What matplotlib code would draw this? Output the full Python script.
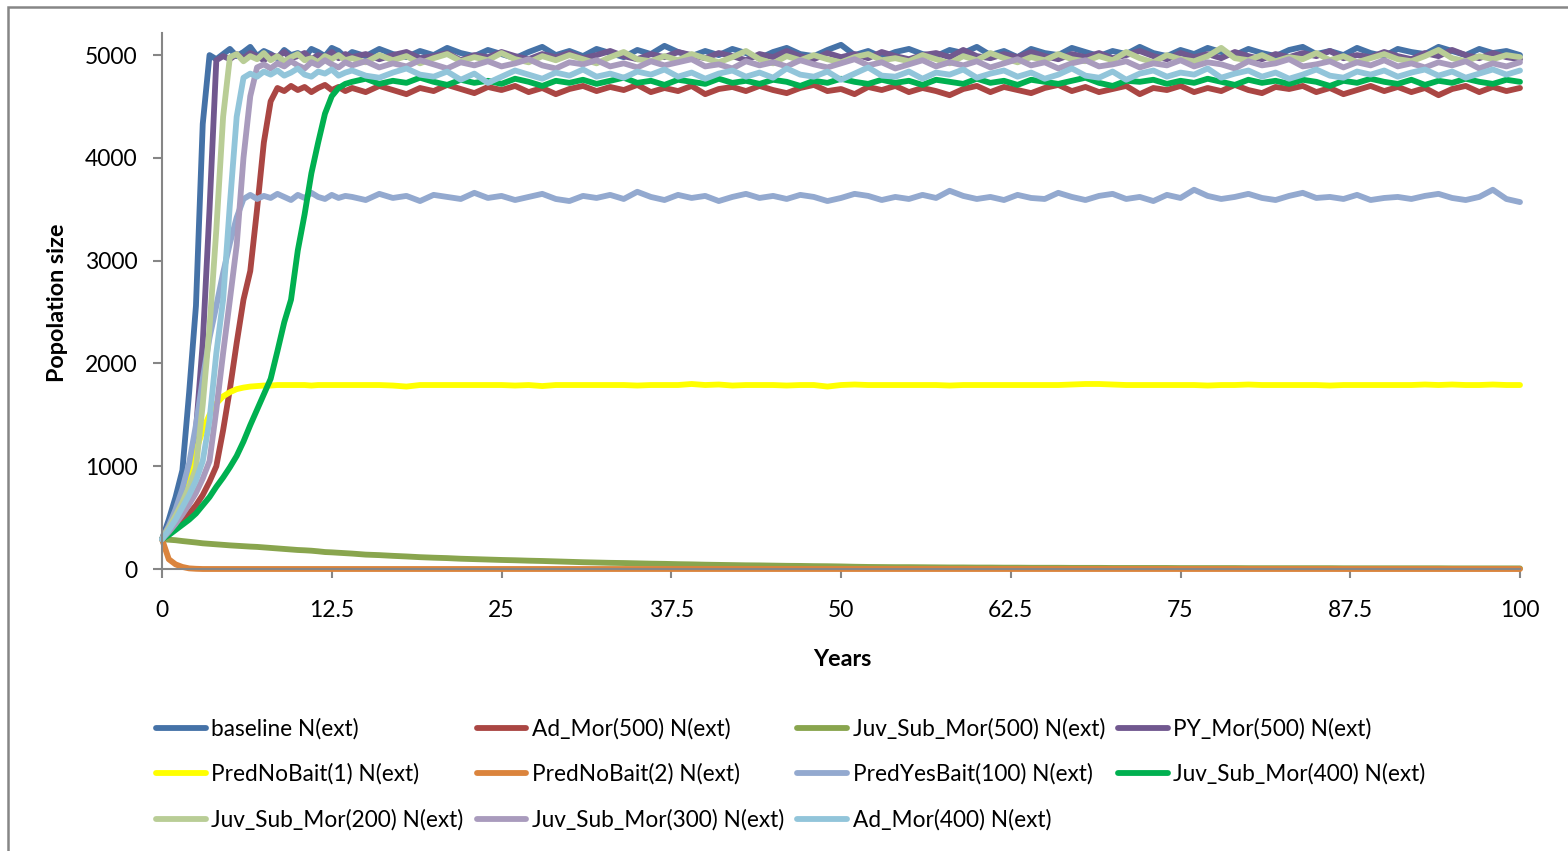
import numpy as np
import matplotlib
matplotlib.use("Agg")
from matplotlib import pyplot as plt
from matplotlib.patches import Rectangle

plt.rcParams['font.family'] = ['Lato', 'DejaVu Sans']

# time axis: half-year steps up to 13.5, then yearly
years = np.r_[np.arange(0, 14, 0.5), np.arange(14, 101)]

baseline = [
    290, 480, 700, 960, 1720, 2560, 4330, 5000, 4960, 5010, 5060, 4990, 5030, 5080,
    4990, 5040, 5010, 4970, 5050, 5000, 5020, 4980, 5060, 5030, 4990, 5070, 5040, 4980,
    5030, 4990, 5060, 5010, 4980, 5040, 5000, 5070, 5020, 4990,
    5050, 5010, 4970, 5030, 5080, 5000, 5040, 4990, 5060, 5020,
    4980, 5050, 5010, 5090, 5030, 4990, 5040, 5000, 5060, 5020,
    4970, 5030, 5070, 5010, 4990, 5050, 5100, 5000, 5040, 4980,
    5030, 5060, 5010, 4990, 5050, 5020, 5080, 5000, 5040, 4980,
    5060, 5020, 5000, 5070, 5030, 4990, 5040, 5010, 5080, 5020,
    4990, 5050, 5010, 5070, 5030, 5000, 5060, 5020, 4990, 5050,
    5080, 5010, 5040, 5000, 5070, 5020, 4990, 5060, 5030, 5010,
    5080, 5040, 5000, 5060, 5020, 5040, 5000,
]
ad_mor_500 = [
    290, 340, 400, 470, 540, 620, 720, 850, 1000, 1350, 1750, 2200, 2620, 2900,
    3500, 4150, 4550, 4680, 4650, 4700, 4660, 4690, 4640, 4680, 4710, 4660, 4690, 4650,
    4680, 4640, 4700, 4660, 4620, 4680, 4650, 4710, 4670, 4630,
    4690, 4660, 4700, 4640, 4680, 4620, 4670, 4700, 4650, 4690,
    4660, 4710, 4640, 4680, 4650, 4700, 4620, 4670, 4690, 4650,
    4700, 4660, 4630, 4680, 4710, 4650, 4670, 4620, 4690, 4660,
    4700, 4640, 4680, 4650, 4610, 4670, 4700, 4640, 4690, 4660,
    4630, 4680, 4710, 4650, 4690, 4640, 4670, 4700, 4620, 4680,
    4660, 4700, 4640, 4680, 4650, 4710, 4660, 4630, 4690, 4670,
    4700, 4640, 4680, 4620, 4660, 4700, 4650, 4690, 4640, 4680,
    4610, 4670, 4700, 4640, 4690, 4650, 4680,
]
juv_sub_mor_500 = [
    290, 285, 280, 272, 265, 258, 250, 245, 240, 235, 230, 226, 222, 218,
    215, 210, 205, 200, 195, 190, 185, 182, 178, 172, 165, 162, 158, 154,
    150, 140, 135, 128, 122, 115, 110, 106, 100, 96,
    92, 88, 85, 81, 78, 74, 70, 66, 63, 60,
    58, 55, 52, 50, 47, 45, 42, 40, 38, 36,
    35, 33, 31, 30, 28, 27, 25, 22, 20, 19,
    18, 18, 17, 16, 15, 15, 14, 14, 13, 13,
    12, 12, 12, 11, 11, 11, 10, 10, 10, 10,
    10, 9, 9, 9, 9, 9, 8, 8, 8, 8,
    8, 8, 8, 7, 7, 7, 7, 7, 7, 7,
    7, 6, 6, 6, 6, 6, 6,
]
py_mor_500 = [
    290, 420, 560, 720, 900, 1350, 2200, 3500, 4950, 4990, 4960, 5010, 4970, 5020,
    4990, 4950, 5000, 4980, 5030, 4970, 4990, 5020, 4960, 5000, 4980, 5030, 4970, 5010,
    4980, 5010, 4960, 5000, 5030, 4970, 4990, 5020, 4950, 5000,
    4980, 5030, 4990, 4960, 5010, 4980, 5020, 4970, 5000, 5040,
    4990, 4960, 5010, 4980, 5030, 5000, 4970, 5020, 4990, 4950,
    5010, 4980, 5040, 4990, 4960, 5020, 4980, 5010, 4970, 5030,
    4990, 4960, 5000, 5020, 4980, 5050, 4990, 4970, 5010, 4980,
    5030, 4990, 4960, 5010, 4980, 5020, 4970, 5000, 5040, 4990,
    4960, 5020, 4980, 5010, 4970, 5030, 4990, 4960, 5010, 4980,
    5020, 4990, 5040, 4970, 5000, 4980, 5030, 4990, 4960, 5020,
    4990, 5050, 5000, 4970, 5020, 4980, 4960,
]
pred_no_bait_1 = [
    290, 400, 530, 700, 900, 1150, 1350, 1500, 1610, 1680, 1720, 1750, 1765, 1775,
    1780, 1785, 1785, 1790, 1790, 1790, 1790, 1790, 1785, 1790, 1790, 1790, 1790, 1790,
    1790, 1790, 1790, 1785, 1775, 1790, 1790, 1790, 1790, 1790,
    1790, 1790, 1785, 1790, 1780, 1790, 1790, 1790, 1790, 1790,
    1790, 1785, 1790, 1790, 1790, 1800, 1790, 1795, 1785, 1790,
    1790, 1790, 1785, 1790, 1790, 1775, 1790, 1795, 1790, 1790,
    1790, 1790, 1790, 1790, 1785, 1790, 1790, 1790, 1790, 1790,
    1790, 1790, 1790, 1795, 1800, 1800, 1795, 1790, 1790, 1790,
    1790, 1790, 1790, 1785, 1790, 1790, 1795, 1790, 1790, 1790,
    1790, 1790, 1785, 1790, 1790, 1790, 1790, 1790, 1790, 1795,
    1790, 1795, 1790, 1790, 1795, 1790, 1790,
]
pred_no_bait_2 = [
    290, 95, 45, 20, 6, 2, 0, 0, 0, 0, 0, 0, 0, 0,
    0, 0, 0, 0, 0, 0, 0, 0, 0, 0, 0, 0, 0, 0,
    0, 0, 0, 0, 0, 0, 0, 0, 0, 0,
    0, 0, 0, 0, 0, 0, 0, 0, 0, 0,
    0, 0, 0, 0, 0, 0, 0, 0, 0, 0,
    0, 0, 0, 0, 0, 0, 0, 0, 0, 0,
    0, 0, 0, 0, 0, 0, 0, 0, 0, 0,
    0, 0, 0, 0, 0, 0, 0, 0, 0, 0,
    0, 0, 0, 0, 0, 0, 0, 0, 0, 0,
    0, 0, 0, 0, 0, 0, 0, 0, 0, 0,
    0, 0, 0, 0, 0, 0, 0,
]
pred_yes_bait_100 = [
    290, 420, 580, 780, 1030, 1400, 1850, 2250, 2560, 2880, 3170, 3420, 3600, 3640,
    3600, 3630, 3610, 3650, 3620, 3590, 3640, 3610, 3660, 3620, 3600, 3640, 3610, 3630,
    3620, 3590, 3650, 3610, 3630, 3580, 3640, 3620, 3600, 3660,
    3610, 3630, 3590, 3620, 3650, 3600, 3580, 3630, 3610, 3640,
    3600, 3670, 3620, 3590, 3640, 3610, 3630, 3580, 3620, 3650,
    3610, 3630, 3600, 3640, 3620, 3580, 3610, 3650, 3630, 3590,
    3620, 3600, 3640, 3610, 3680, 3630, 3600, 3620, 3590, 3640,
    3610, 3600, 3660, 3620, 3590, 3630, 3650, 3600, 3620, 3580,
    3640, 3610, 3690, 3630, 3600, 3620, 3650, 3610, 3590, 3630,
    3660, 3610, 3620, 3600, 3640, 3590, 3610, 3620, 3600, 3630,
    3650, 3610, 3590, 3620, 3690, 3600, 3570,
]
juv_sub_mor_400 = [
    290, 330, 380, 430, 480, 540, 620, 700, 800, 890, 990, 1100, 1240, 1400,
    1550, 1700, 1850, 2120, 2400, 2620, 3100, 3450, 3850, 4150, 4430, 4600, 4680, 4720,
    4740, 4770, 4720, 4750, 4730, 4780, 4740, 4710, 4760, 4730,
    4750, 4720, 4770, 4740, 4700, 4750, 4730, 4760, 4720, 4750,
    4780, 4730, 4750, 4710, 4760, 4740, 4720, 4770, 4730, 4750,
    4720, 4760, 4740, 4700, 4750, 4730, 4770, 4740, 4720, 4760,
    4730, 4750, 4710, 4760, 4740, 4720, 4770, 4730, 4750, 4710,
    4760, 4740, 4720, 4750, 4780, 4730, 4700, 4750, 4740, 4760,
    4720, 4750, 4730, 4770, 4740, 4710, 4760, 4730, 4750, 4720,
    4760, 4740, 4700, 4750, 4730, 4770, 4740, 4720, 4760, 4710,
    4750, 4730, 4770, 4740, 4720, 4760, 4740,
]
juv_sub_mor_200 = [
    290, 400, 520, 650, 800, 980, 1600, 2350, 3300, 4400, 4980, 5010, 4940, 4990,
    4960, 5020, 4950, 4990, 4940, 4980, 5010, 4950, 4970, 4930, 4990, 4960, 5000, 4950,
    4970, 4930, 5000, 4950, 4990, 4920, 4970, 5010, 4940, 4980,
    4950, 5020, 4960, 4930, 4990, 4950, 5000, 4960, 4920, 4980,
    5030, 4960, 4940, 4990, 4950, 5010, 4970, 4930, 4980, 5040,
    4960, 4920, 4990, 4950, 5000, 4960, 4930, 4980, 5010, 4950,
    4970, 4940, 5000, 4960, 4920, 4990, 4950, 5020, 4970, 4930,
    4980, 4950, 5010, 4960, 4940, 4990, 4950, 5030, 4970, 4930,
    5000, 4960, 4940, 4990, 5070, 4970, 4950, 5000, 4940, 4980,
    4960, 5020, 4950, 4990, 4930, 4970, 5010, 4960, 4940, 4990,
    5050, 4970, 4940, 4990, 4960, 5000, 4980,
]
juv_sub_mor_300 = [
    290, 360, 440, 530, 630, 740, 880, 1050, 1550, 2100, 2620, 3150, 4000, 4600,
    4880, 4910, 4870, 4920, 4890, 4940, 4900, 4870, 4930, 4900, 4950, 4910, 4880, 4930,
    4900, 4940, 4880, 4920, 4890, 4950, 4910, 4870, 4930, 4900,
    4940, 4890, 4920, 4960, 4900, 4870, 4930, 4910, 4950, 4890,
    4920, 4880, 4940, 4900, 4930, 4960, 4890, 4910, 4870, 4940,
    4900, 4930, 4890, 4950, 4910, 4880, 4920, 4960, 4900, 4930,
    4870, 4910, 4950, 4890, 4930, 4900, 4940, 4880, 4920, 4960,
    4900, 4930, 4870, 4920, 4950, 4890, 4910, 4940, 4880, 4920,
    4900, 4950, 4890, 4930, 4910, 4870, 4940, 4900, 4920, 4960,
    4890, 4910, 4940, 4880, 4930, 4900, 4950, 4890, 4920, 4880,
    4930, 4900, 4940, 4870, 4920, 4890, 4930,
]
ad_mor_400 = [
    290, 380, 480, 600, 720, 860, 1050, 1450, 2100, 2620, 3550, 4400, 4780, 4820,
    4790, 4840, 4810, 4850, 4800, 4830, 4870, 4810, 4790, 4840, 4820, 4860, 4800, 4830,
    4850, 4800, 4780, 4830, 4870, 4810, 4790, 4840, 4760, 4820,
    4730, 4790, 4850, 4810, 4770, 4830, 4800, 4860, 4790, 4820,
    4780, 4840, 4810, 4860, 4790, 4830, 4770, 4820, 4850, 4790,
    4830, 4780, 4870, 4810, 4790, 4840, 4760, 4820, 4880, 4800,
    4790, 4840, 4770, 4830, 4810, 4860, 4780, 4820, 4850, 4790,
    4830, 4770, 4810, 4870, 4800, 4780, 4840, 4760, 4820, 4850,
    4790, 4830, 4810, 4870, 4780, 4820, 4850, 4790, 4830, 4770,
    4810, 4860, 4800, 4780, 4840, 4810, 4850, 4790, 4830, 4860,
    4800, 4840, 4780, 4820, 4860, 4810, 4850,
]

series = [
    ("baseline N(ext)", baseline, "#4572A7"),
    ("Ad_Mor(500) N(ext)", ad_mor_500, "#AA4643"),
    ("Juv_Sub_Mor(500) N(ext)", juv_sub_mor_500, "#89A54E"),
    ("PY_Mor(500) N(ext)", py_mor_500, "#71588F"),
    ("PredNoBait(1) N(ext)", pred_no_bait_1, "#FFFF00"),
    ("PredNoBait(2) N(ext)", pred_no_bait_2, "#DB843D"),
    ("PredYesBait(100) N(ext)", pred_yes_bait_100, "#93A9CF"),
    ("Juv_Sub_Mor(400) N(ext)", juv_sub_mor_400, "#00B050"),
    ("Juv_Sub_Mor(200) N(ext)", juv_sub_mor_200, "#B9CD96"),
    ("Juv_Sub_Mor(300) N(ext)", juv_sub_mor_300, "#A99BBD"),
    ("Ad_Mor(400) N(ext)", ad_mor_400, "#92C5DA"),
]

W, H = 1568, 851
fig = plt.figure(figsize=(W / 100, H / 100), dpi=100)
ax = fig.add_axes([162 / W, (H - 569) / H, (1520 - 162) / W, (569 - 33) / H])

handles = []
for label, vals, col in series:
    ln, = ax.plot(years, vals, color=col, lw=4.2, label=label, clip_on=False,
                  solid_capstyle="round", solid_joinstyle="round")
    handles.append(ln)

ax.set_xlim(0, 100)
ax.set_ylim(0, 5215)
xt = [0, 12.5, 25, 37.5, 50, 62.5, 75, 87.5, 100]
ax.set_xticks(xt)
ax.set_xticklabels(["0", "12.5", "25", "37.5", "50", "62.5", "75", "87.5", "100"])
ax.set_yticks([0, 1000, 2000, 3000, 4000, 5000])

for s in ["top", "right"]:
    ax.spines[s].set_visible(False)
for s in ["left", "bottom"]:
    ax.spines[s].set_color("#868686")
    ax.spines[s].set_linewidth(1.5)
ax.tick_params(axis="both", colors="#868686", width=1.5, length=6.5, labelcolor="black",
               labelsize=16.5)
ax.tick_params(axis="y", pad=11)
ax.tick_params(axis="x", pad=16)

fig.text(57 / W, 1 - 303 / H, "Popolation size", rotation=90, ha="center", va="center",
         fontsize=16.8, fontweight="bold")
fig.text(842 / W, 1 - 660 / H, "Years", ha="center", va="center", fontsize=16.8,
         fontweight="bold")

# Excel fills the legend row by row; matplotlib fills columns
order = [0, 4, 8, 1, 5, 9, 2, 6, 10, 3, 7]
fig.legend([handles[i] for i in order], [series[i][0] for i in order],
           loc="upper left", bbox_to_anchor=(156 / W, 1 - 718 / H), ncol=4,
           frameon=False, fontsize=16.3, handlelength=2.2, handletextpad=0.25,
           columnspacing=0.57, labelspacing=1.06, borderaxespad=0, borderpad=0)

# chart-area frame
fig.patches.append(Rectangle((8 / W, -0.05), 1.1, 1 - 7 / H + 0.05, transform=fig.transFigure,
                             fill=False, edgecolor="#868686", lw=1.8))

fig.savefig("out.png", dpi=100)
